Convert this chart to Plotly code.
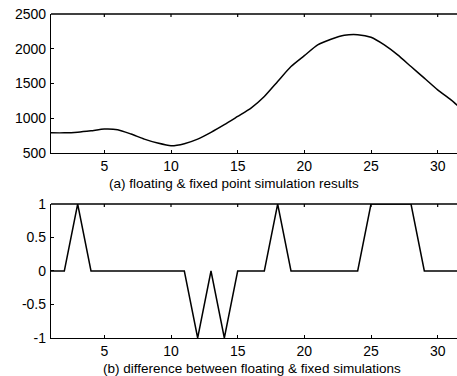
import plotly.graph_objects as go

x_vals = list(range(1, 33))
sim_results = [790, 790, 800, 820, 845, 835, 773, 700, 643, 605, 634, 700, 797, 907,
               1026, 1146, 1313, 1529, 1744, 1900, 2055, 2136, 2194, 2203, 2165, 2055,
               1911, 1744, 1577, 1409, 1265, 1098]
diff_vals = [0, 0, 1, 0, 0, 0, 0, 0, 0, 0, 0, -1, 0, -1, 0, 0, 0, 1, 0, 0, 0, 0, 0, 0,
             1, 1, 1, 1, 0, 0, 0, 0]

x_ticks = [5, 10, 15, 20, 25, 30]
y1_ticks = [500, 1000, 1500, 2000, 2500]
y2_ticks = [-1, -0.5, 0, 0.5, 1]
y2_labels = ["-1", "-0.5", "0", "0.5", "1"]
label_a = "(a) floating & fixed point simulation results"
label_b = "(b) difference between floating & fixed simulations"

fig = go.Figure()
fig.add_trace(go.Scatter(x=x_vals, y=sim_results, mode="lines",
                         line=dict(color="black", width=1.5, shape="spline", smoothing=0.6),
                         xaxis="x", yaxis="y", showlegend=False, cliponaxis=False))
fig.add_trace(go.Scatter(x=x_vals, y=diff_vals, mode="lines", line=dict(color="black", width=1.5),
                         xaxis="x2", yaxis="y2", showlegend=False, cliponaxis=False))

font = dict(family="Liberation Sans, Arial", size=14, color="black")
lab_font = dict(family="Liberation Sans, Arial", size=13.5, color="black")
x_range = [1, 31.45]
common_x = dict(range=x_range, tickvals=x_ticks, ticks="inside", ticklen=3, tickcolor="black",
                showline=True, linecolor="black", linewidth=1.3, showgrid=False,
                zeroline=False, tickfont=font, ticklabeloverflow="allow")
common_y = dict(ticks="inside", ticklen=3, tickcolor="black", showline=True, linecolor="black",
                linewidth=1.3, mirror=False, showgrid=False, zeroline=False, tickfont=font,
                ticklabelstandoff=1, ticklabeloverflow="allow")

top1, top2 = 1.0, 0.4136
plot_h = 376 - 14 - 38
shapes = []
for top, xr in ((top1, "x"), (top2, "x2")):
    # top frame line of each panel
    shapes.append(dict(type="line", xref="paper", yref="paper", x0=0, x1=1, y0=top, y1=top,
                       line=dict(color="black", width=1.3), layer="above"))
    # top tick marks (pointing inward)
    for t in x_ticks:
        shapes.append(dict(type="line", xref=xr, yref="paper", x0=t, x1=t,
                           y0=top, y1=top - 3 / plot_h, line=dict(color="black", width=1.2),
                           layer="above"))

fig.update_layout(
    width=457, height=376,
    margin=dict(l=51, r=0, t=14, b=38),
    paper_bgcolor="white", plot_bgcolor="white",
    xaxis=dict(domain=[0, 1], anchor="y", **common_x),
    yaxis=dict(domain=[0.571, top1], range=[500, 2500], tickvals=y1_ticks, anchor="x", **common_y),
    xaxis2=dict(domain=[0, 1], anchor="y2", **common_x),
    yaxis2=dict(domain=[0, top2], range=[-1, 1], tickvals=y2_ticks, ticktext=y2_labels,
                anchor="x2", **common_y),
    shapes=shapes,
    annotations=[
        dict(text=label_a, xref="paper", yref="paper", x=0.451, y=0.571, yshift=-21, showarrow=False,
             xanchor="center", yanchor="top", font=lab_font),
        dict(text=label_b, xref="paper", yref="paper", x=0.495, y=0.0, yshift=-21, showarrow=False,
             xanchor="center", yanchor="top", font=lab_font),
    ],
)

# remove the default 8px page margin so the figure fills the window exactly
fig.write_html("out.html", config={"displayModeBar": False},
               post_script="document.body.style.margin='0';document.body.style.overflow='hidden';")
